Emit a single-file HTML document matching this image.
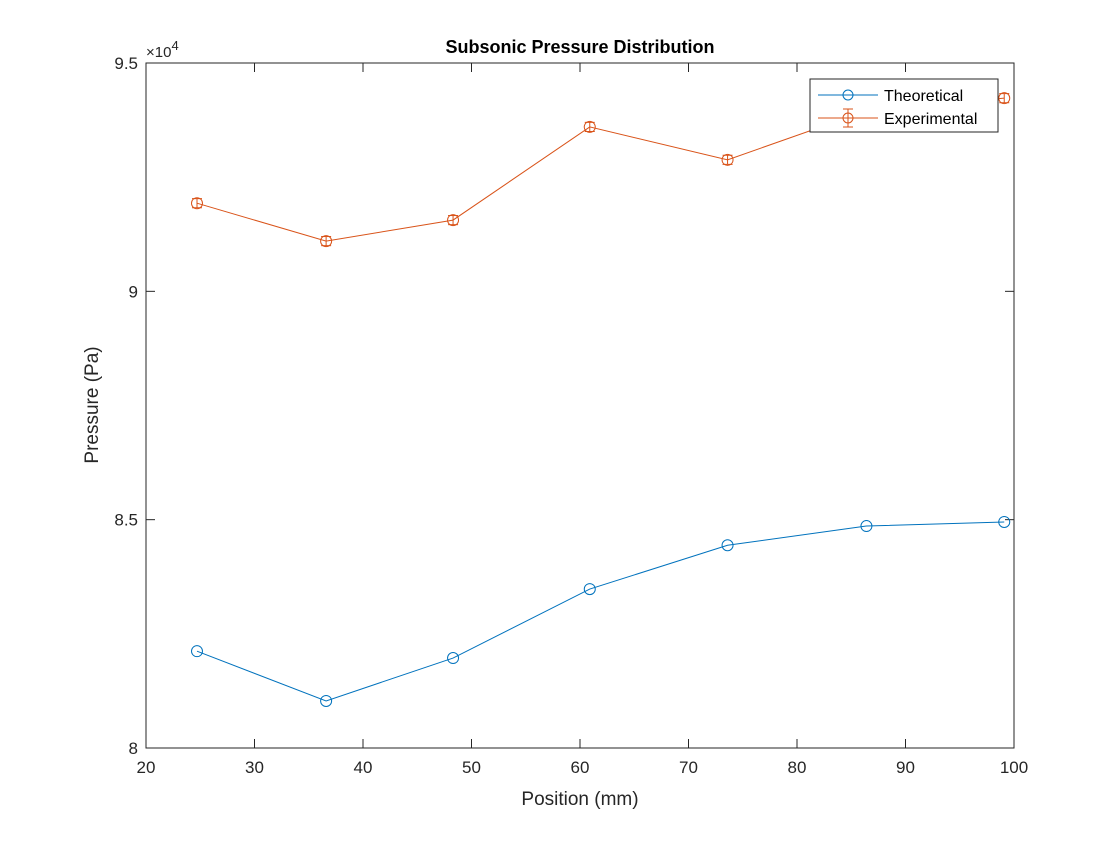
<!DOCTYPE html>
<html><head><meta charset="utf-8"><style>
body{margin:0;background:#fff;}
svg text{font-family:"Liberation Sans",sans-serif;}
</style></head><body>
<svg id="chart" width="1120" height="840">
<rect x="0" y="0" width="1120" height="840" fill="#fff"/>
<g id="axes"></g>
<g id="series"></g>
<text x="580" y="53" text-anchor="middle" font-size="18" font-weight="bold" fill="#000">Subsonic Pressure Distribution</text>
<text x="580" y="805" text-anchor="middle" font-size="19" fill="#262626">Position (mm)</text>
<text transform="translate(98,405) rotate(-90)" text-anchor="middle" font-size="19" fill="#262626">Pressure (Pa)</text>
<text x="146" y="57" font-size="15" fill="#262626">×10<tspan dy="-7" font-size="13">4</tspan></text>
<g>
<rect x="810" y="79" width="188" height="53" fill="#fff" stroke="#262626" stroke-width="1"/>
<line x1="818" y1="95" x2="878" y2="95" stroke="#0072bd"/>
<circle cx="848" cy="95" r="5" fill="none" stroke="#0072bd"/>
<text x="884" y="101" font-size="16" fill="#000">Theoretical</text>
<line x1="818" y1="118" x2="878" y2="118" stroke="#d95319"/>
<circle cx="848" cy="118" r="5" fill="none" stroke="#d95319"/>
<line x1="848" y1="109" x2="848" y2="127" stroke="#d95319"/>
<line x1="843" y1="109" x2="853" y2="109" stroke="#d95319"/>
<line x1="843" y1="127" x2="853" y2="127" stroke="#d95319"/>
<text x="884" y="124" font-size="16" fill="#000">Experimental</text>
</g>
</svg>
<script>
const positions = [24.7, 36.6, 48.3, 60.9, 73.6, 86.4, 99.1];
const theoretical = [82120, 81030, 81970, 83480, 84440, 84860, 84950];
const experimental = [91930, 91100, 91560, 93600, 92880, 93950, 94230];
const expError = [100, 100, 100, 100, 100, 100, 100];
const xTicks = [20,30,40,50,60,70,80,90,100];
const yTicks = [80000,85000,90000,95000];
const yTickLabels = ["8","8.5","9","9.5"];
const L=146,R=1014,T=63,B=748;
const xs=v=>L+(v-20)/80*(R-L);
const ys=v=>B-(v-80000)/15000*(B-T);
const NS="http://www.w3.org/2000/svg";
function mk(tag,attrs,parent){const e=document.createElementNS(NS,tag);for(const k in attrs)e.setAttribute(k,attrs[k]);parent.appendChild(e);return e;}
const ax=document.getElementById('axes'), sg=document.getElementById('series');
const box=mk('rect',{x:L,y:T,width:R-L,height:B-T,fill:'none',stroke:'#262626','stroke-width':1},ax);


xTicks.forEach(t=>{const x=xs(t);
mk('line',{x1:x,y1:B,x2:x,y2:B-9,stroke:'#262626'},ax);
mk('line',{x1:x,y1:T,x2:x,y2:T+9,stroke:'#262626'},ax);
const tx=mk('text',{x:x,y:B+25,'text-anchor':'middle','font-size':17,fill:'#262626'},ax);tx.textContent=t;

});
yTicks.forEach((t,i)=>{const y=ys(t);
mk('line',{x1:L,y1:y,x2:L+9,y2:y,stroke:'#262626'},ax);
mk('line',{x1:R,y1:y,x2:R-9,y2:y,stroke:'#262626'},ax);
const tx=mk('text',{x:L-8,y:y+6,'text-anchor':'end','font-size':17,fill:'#262626'},ax);tx.textContent=yTickLabels[i];

});
function series(vals,color,name,err){
const pl=mk('polyline',{points:vals.map((v,i)=>xs(positions[i])+','+ys(v)).join(' '),fill:'none',stroke:color,'stroke-width':1},sg);


vals.forEach((v,i)=>{const x=xs(positions[i]),y=ys(v);
if(err){const y1=ys(v+err[i]),y2=ys(v-err[i]);
mk('line',{x1:x,y1:y1,x2:x,y2:y2,stroke:color},sg);
mk('line',{x1:x-5,y1:y1,x2:x+5,y2:y1,stroke:color},sg);
mk('line',{x1:x-5,y1:y2,x2:x+5,y2:y2,stroke:color},sg);}
const c=mk('circle',{cx:x,cy:y,r:5.5,fill:'none',stroke:color},sg);

});}
series(theoretical,'#0072bd','theoretical',null);
series(experimental,'#d95319','experimental',expError);
</script>
</body></html>
